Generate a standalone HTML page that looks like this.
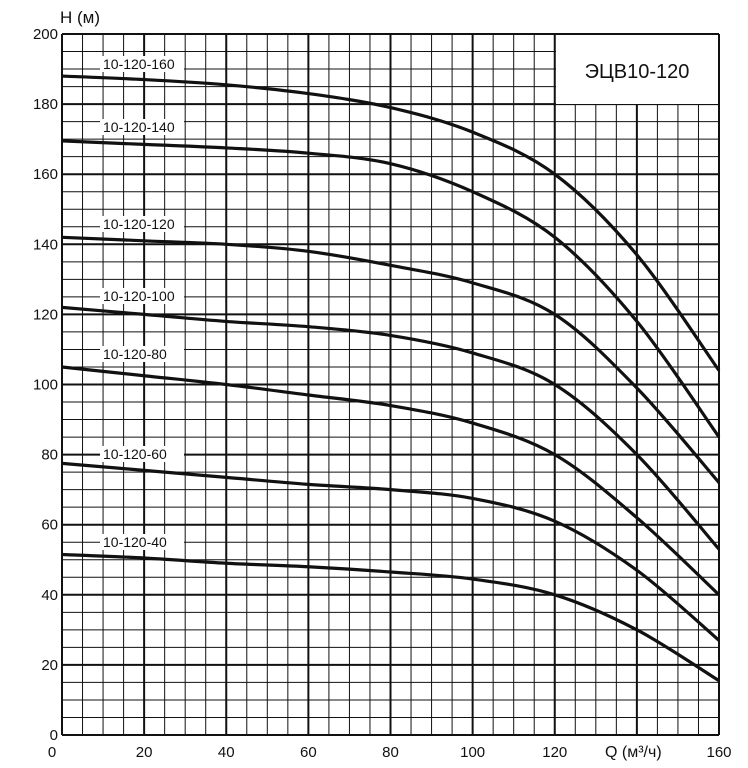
<!DOCTYPE html>
<html><head><meta charset="utf-8"><style>
html,body{margin:0;padding:0;background:#fff;}
svg{display:block;font-family:"Liberation Sans",Arial,sans-serif;}
</style></head><body>
<svg id="s" width="748" height="768" viewBox="0 0 748 768" xmlns="http://www.w3.org/2000/svg">
<rect width="748" height="768" fill="#fff"/>
<g id="grid"></g>
<rect x="556" y="35" width="162" height="69" fill="#fff"/>
<text x="637" y="78" font-size="20" text-anchor="middle" fill="#111">ЭЦВ10-120</text>
<g id="curves"></g>
<g id="labels" font-size="14" fill="#111"></g>
<text x="60" y="23" font-size="17" fill="#111">H (м)</text>
<text x="605" y="757" font-size="16" fill="#111">Q (м³/ч)</text>
</svg>
<script>
const X0=62,X1=719,Y0=735,Y1=34;
const sx=q=>X0+(X1-X0)*q/160, sy=h=>Y0-(Y0-Y1)*h/200;
const NS="http://www.w3.org/2000/svg";
function el(p,t,a,txt){const e=document.createElementNS(NS,t);for(const k in a)e.setAttribute(k,a[k]);if(txt!=null)e.textContent=txt;p.appendChild(e);return e;}
const g=document.getElementById('grid');
for(let q=0;q<=160;q+=5){const m=q%20==0;el(g,'line',{x1:sx(q),x2:sx(q),y1:Y1,y2:Y0,stroke:'#111','stroke-width':m?2:1});}
for(let h=0;h<=200;h+=5){const m=h%20==0;el(g,'line',{x1:X0,x2:X1,y1:sy(h),y2:sy(h),stroke:'#111','stroke-width':m?2:1});}
const s=document.getElementById('s');
for(let h=0;h<=200;h+=20){el(s,'text',{x:X0-4,y:sy(h)+5,'font-size':15,'text-anchor':'end',fill:'#111'},String(h));}
for(let q=20;q<=160;q+=20){if(q==140)continue;el(s,'text',{x:sx(q),y:757,'font-size':15,'text-anchor':'middle',fill:'#111'},String(q));}
el(s,'text',{x:X0-10,y:757,'font-size':15,'text-anchor':'middle',fill:'#111'},'0');
const data=[
[188,187,185.5,183,179,172,160,137,104],
[169.5,168.5,167.5,166,163,155,142,118,85],
[142,141,140,138,134,129,120,99,72],
[122,120,118,116.5,114,109,100,80,53],
[105,102.5,100,97,94,89,80,62,40],
[77.5,75.5,73.5,71.5,70,67.5,61,47,27],
[51.5,50.5,49,48,46.5,44.5,40,30,15.5]];
const names=['10-120-160','10-120-140','10-120-120','10-120-100','10-120-80','10-120-60','10-120-40'];
const ly=[68,131,228,300,358,458,546];
const cg=document.getElementById('curves'),lg=document.getElementById('labels');
data.forEach((d,i)=>{
 const P=d.map((h,j)=>[sx(j*20),sy(h)]);
 let path='M'+P[0][0]+','+P[0][1];
 for(let j=0;j<P.length-1;j++){
  const p0=P[Math.max(0,j-1)],p1=P[j],p2=P[j+1],p3=P[Math.min(P.length-1,j+2)];
  const c1=[p1[0]+(p2[0]-p0[0])/6,p1[1]+(p2[1]-p0[1])/6];
  const c2=[p2[0]-(p3[0]-p1[0])/6,p2[1]-(p3[1]-p1[1])/6];
  path+=` C${c1[0]},${c1[1]} ${c2[0]},${c2[1]} ${p2[0]},${p2[1]}`;
 }
 el(cg,'path',{d:path,fill:'none',stroke:'#111','stroke-width':3.2});
 el(lg,'rect',{x:100,y:ly[i]-12,width:84,height:16,fill:'#fff'});
 el(lg,'text',{x:103,y:ly[i]+1},names[i]);
});
</script>
</body></html>
